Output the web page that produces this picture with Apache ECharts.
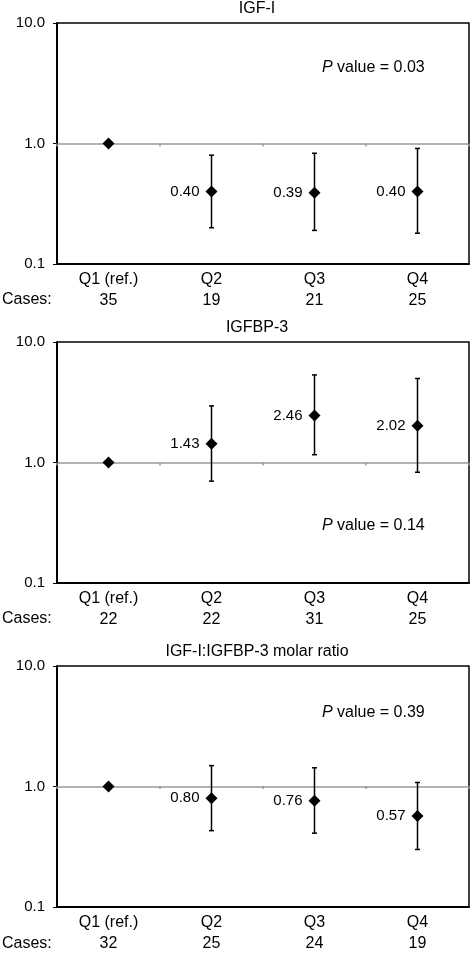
<!DOCTYPE html>
<html>
<head>
<meta charset="utf-8">
<script src="https://cdn.jsdelivr.net/npm/echarts@6/dist/echarts.min.js"></script>
<style>
  html, body { margin: 0; padding: 0; background: #fff; }
  #chart { width: 474px; height: 954px; }
</style>
</head>
<body>
<div id="chart"></div>
<script>

// categories
var quartiles = ['Q1 (ref.)', 'Q2', 'Q3', 'Q4'];

// IGF-I
var igfOR = [1, 0.40, 0.39, 0.40];
var igfLow = [null, 0.20, 0.19, 0.18];
var igfHigh = [null, 0.80, 0.83, 0.91];
var igfCases = [35, 19, 21, 25];

// IGFBP-3
var bp3OR = [1, 1.43, 2.46, 2.02];
var bp3Low = [null, 0.70, 1.16, 0.83];
var bp3High = [null, 2.95, 5.33, 4.98];
var bp3Cases = [22, 22, 31, 25];

// molar ratio
var ratioOR = [1, 0.80, 0.76, 0.57];
var ratioLow = [null, 0.43, 0.41, 0.30];
var ratioHigh = [null, 1.49, 1.43, 1.08];
var ratioCases = [32, 25, 24, 19];

var titles = ['IGF-I', 'IGFBP-3', 'IGF-I:IGFBP-3 molar ratio'];
var pValues = ['0.03', '0.14', '0.39'];
var yMin = 0.1, yMax = 10;

var panels = [
    { or: igfOR, low: igfLow, high: igfHigh, cases: igfCases, top: 23, height: 241, pY: 68 },
    { or: bp3OR, low: bp3Low, high: bp3High, cases: bp3Cases, top: 342, height: 241, pY: 526 },
    { or: ratioOR, low: ratioLow, high: ratioHigh, cases: ratioCases, top: 666, height: 242, pY: 713 }
];

var FONT = '"Liberation Sans", Arial, sans-serif';
var GRID_LEFT = 57, GRID_WIDTH = 412;

var option = {
    animation: false,
    backgroundColor: '#fff',
    title: [],
    grid: [],
    xAxis: [],
    yAxis: [],
    series: [],
    graphic: []
};

panels.forEach(function (p, k) {

    option.title.push({
        text: titles[k],
        left: 257,
        top: p.top - 22,
        textAlign: 'center',
        padding: 0,
        textStyle: { fontFamily: FONT, fontSize: 16, fontWeight: 'normal', color: '#000' }
    });

    option.grid.push({
        left: GRID_LEFT, top: p.top, width: GRID_WIDTH, height: p.height
    });

    // category axis with quartile + cases labels
    option.xAxis.push({
        gridIndex: k,
        type: 'category',
        data: quartiles,
        position: 'bottom',
        axisLine: { show: true, lineStyle: { color: '#000', width: 2 } },
        axisTick: { show: false },
        axisLabel: {
            interval: 0,
            margin: 5,
            fontFamily: FONT,
            fontSize: 16,
            lineHeight: 21,
            color: '#000',
            formatter: function (val, i) { return val + '\n' + p.cases[i]; }
        },
        splitLine: { show: false }
    });

    // ticks sitting on the 1.0 reference line
    option.xAxis.push({
        gridIndex: k,
        type: 'category',
        data: quartiles,
        position: 'bottom',
        offset: -p.height / 2,
        axisLine: { show: false },
        axisTick: { show: true, length: 3, lineStyle: { color: '#999', width: 1.5 } },
        axisLabel: { show: false },
        splitLine: { show: false }
    });

    option.yAxis.push({
        gridIndex: k,
        type: 'log',
        logBase: 10,
        min: yMin,
        max: yMax,
        position: 'left',
        axisLine: { show: true, lineStyle: { color: '#000', width: 2 } },
        axisTick: { show: true, length: 4, lineStyle: { color: '#000', width: 1 } },
        axisLabel: {
            margin: 12,
            fontFamily: FONT,
            fontSize: 15,
            color: '#000',
            formatter: function (v) { return Number(v).toFixed(1); }
        },
        splitLine: { show: true, lineStyle: { color: ['#000', '#999', '#000'], width: 1.5 } }
    });

    option.yAxis.push({
        gridIndex: k,
        type: 'log',
        logBase: 10,
        min: yMin,
        max: yMax,
        position: 'right',
        axisLine: { show: true, lineStyle: { color: '#000', width: 1.5 } },
        axisTick: { show: false },
        axisLabel: { show: false },
        splitLine: { show: false }
    });

    var bars = [];
    for (var i = 0; i < quartiles.length; i++) {
        if (p.low[i] != null) bars.push([i, p.low[i], p.high[i]]);
    }

    option.series.push({
        type: 'custom',
        xAxisIndex: k * 2,
        yAxisIndex: k * 2,
        data: bars,
        encode: { x: 0, y: [1, 2] },
        z: 3,
        renderItem: function (params, api) {
            var x = api.value(0);
            var lo = api.coord([x, api.value(1)]);
            var hi = api.coord([x, api.value(2)]);
            var cap = 2.5;
            var st = { stroke: '#000', lineWidth: 1.5 };
            return {
                type: 'group',
                children: [
                    { type: 'line', shape: { x1: lo[0], y1: lo[1], x2: hi[0], y2: hi[1] }, style: st },
                    { type: 'line', shape: { x1: hi[0] - cap, y1: hi[1], x2: hi[0] + cap, y2: hi[1] }, style: st },
                    { type: 'line', shape: { x1: lo[0] - cap, y1: lo[1], x2: lo[0] + cap, y2: lo[1] }, style: st }
                ]
            };
        }
    });

    option.series.push({
        type: 'scatter',
        xAxisIndex: k * 2,
        yAxisIndex: k * 2,
        data: p.or.map(function (v, i) {
            return { value: v, label: { show: i > 0 } };
        }),
        symbol: 'diamond',
        symbolSize: 12,
        itemStyle: { color: '#000', opacity: 1 },
        z: 5,
        label: {
            position: 'left',
            distance: 6,
            fontFamily: FONT,
            fontSize: 15,
            color: '#000',
            formatter: function (d) { return d.value.toFixed(2); }
        }
    });

    option.graphic.push({
        type: 'text',
        left: 2,
        top: p.top + p.height + 28,
        style: {
            text: 'Cases:',
            font: '16px ' + FONT,
            fill: '#000'
        }
    });

    option.graphic.push({
        type: 'text',
        x: 322,
        y: p.pY,
        style: {
            text: '{i|P} value = ' + pValues[k],
            font: '16px ' + FONT,
            fill: '#000',
            verticalAlign: 'middle',
            rich: {
                i: { fontStyle: 'italic', fontSize: 16, fontFamily: FONT, fill: '#000' }
            }
        }
    });
});

var myChart = echarts.init(document.getElementById('chart'));
myChart.setOption(option);

</script>
</body>
</html>
